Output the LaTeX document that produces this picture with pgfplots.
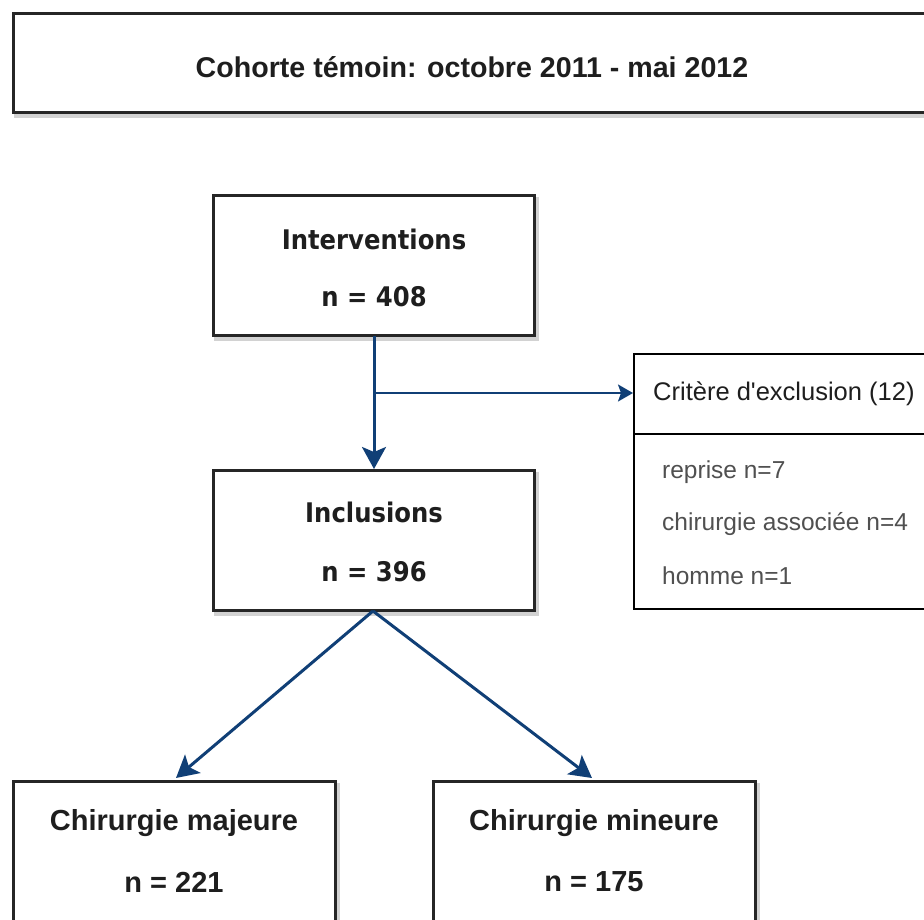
\documentclass[border=0pt]{standalone}
\usepackage{fontspec}
\setmainfont{Liberation Sans}
\newfontfamily\lsplain{Liberation Sans}[Ligatures=TeXOff]
\newfontfamily\dv{DejaVu Sans}
\usepackage{graphicx}
\usepackage{pgfplots}
\pgfplotsset{compat=1.18}
\usetikzlibrary{arrows.meta}
\definecolor{arr}{RGB}{16,63,118}
\definecolor{txt}{RGB}{30,30,30}
\definecolor{itm}{RGB}{80,80,80}
\begin{document}
\begin{tikzpicture}
\begin{axis}[scale only axis, width=924pt, height=919pt,
  xmin=0, xmax=924, ymin=0, ymax=919, y dir=reverse,
  hide axis, clip=true]
% shadows
\addplot[draw=gray!35, line width=4pt, line cap=rect] coordinates {(16,116) (950,116)};
\addplot[draw=gray!35, line width=4pt, line cap=rect] coordinates {(537,199) (537,339) (216,339)};
\addplot[draw=gray!35, line width=4pt, line cap=rect] coordinates {(537,474) (537,614) (216,614)};
\addplot[draw=gray!35, line width=4pt, line cap=rect] coordinates {(338,785) (338,950)};
\addplot[draw=gray!35, line width=4pt, line cap=rect] coordinates {(758,785) (758,950)};
% title box
\addplot[draw=black!85, fill=white, line width=3pt, line cap=rect] coordinates {(13,13.5) (950,13.5) (950,112) (13,112) (13,13.5)};
% Interventions box
\addplot[draw=black!85, fill=white, line width=3pt, line cap=rect] coordinates {(213,195) (534,195) (534,335) (213,335) (213,195)};
% Inclusions box
\addplot[draw=black!85, fill=white, line width=3pt, line cap=rect] coordinates {(213,470) (534,470) (534,610) (213,610) (213,470)};
% bottom boxes
\addplot[draw=black!85, fill=white, line width=3pt, line cap=rect] coordinates {(13,950) (13,781) (335,781) (335,950)};
\addplot[draw=black!85, fill=white, line width=3pt, line cap=rect] coordinates {(433,950) (433,781) (755,781) (755,950)};
% exclusion box
\addplot[draw=black, fill=white, line width=1.4pt, line cap=rect] coordinates {(950,354) (634,354) (634,609) (950,609)};
\addplot[draw=black, line width=1.2pt] coordinates {(634,434) (950,434)};
% arrows
\addplot[draw=arr, line width=3pt, -{Stealth[length=22pt,width=24pt,inset=5pt]}] coordinates {(374,336) (374,469)};
\addplot[draw=arr, line width=2pt, -{Stealth[length=15pt,width=17pt,inset=3pt]}] coordinates {(374,393) (633,393)};
\addplot[draw=arr, line width=3pt, -{Stealth[length=22pt,width=24pt,inset=5pt]}] coordinates {(373,611) (176,778)};
\addplot[draw=arr, line width=3pt, -{Stealth[length=22pt,width=24pt,inset=5pt]}] coordinates {(373,611) (592,778)};
% texts
\node[text=txt, font=\bfseries\fontsize{28.6}{32}\selectfont] at (axis cs:472,67) {Cohorte témoin: octobre 2011 - mai 2012};
\node[text=txt, font=\dv\bfseries\fontsize{27}{32}\selectfont] at (axis cs:374,239) {\scalebox{0.9}[1]{Interventions}};
\node[text=txt, font=\dv\bfseries\fontsize{27}{32}\selectfont] at (axis cs:374,297) {\scalebox{0.9}[1]{n = 408}};
\node[text=txt, font=\dv\bfseries\fontsize{27}{32}\selectfont] at (axis cs:374,512) {\scalebox{0.9}[1]{Inclusions}};
\node[text=txt, font=\dv\bfseries\fontsize{27}{32}\selectfont] at (axis cs:374,572) {\scalebox{0.9}[1]{n = 396}};
\node[text=txt, font=\bfseries\fontsize{29}{32}\selectfont] at (axis cs:174,823) {Chirurgie majeure};
\node[text=txt, font=\bfseries\fontsize{29}{32}\selectfont] at (axis cs:174,882) {n = 221};
\node[text=txt, font=\bfseries\fontsize{29}{32}\selectfont] at (axis cs:594,823) {Chirurgie mineure};
\node[text=txt, font=\bfseries\fontsize{29}{32}\selectfont] at (axis cs:594,882) {n = 175};
\node[text=txt, anchor=west, inner sep=0pt, font=\lsplain\fontsize{25.5}{30}\selectfont] at (axis cs:653,394) {Critère d'exclusion (12)};
\node[text=itm, anchor=west, inner sep=0pt, font=\fontsize{24.5}{30}\selectfont] at (axis cs:662,472) {reprise n=7};
\node[text=itm, anchor=west, inner sep=0pt, font=\fontsize{24.5}{30}\selectfont] at (axis cs:662,524) {chirurgie associée n=4};
\node[text=itm, anchor=west, inner sep=0pt, font=\fontsize{24.5}{30}\selectfont] at (axis cs:662,576) {homme n=1};
\end{axis}
\pgfresetboundingbox
\path (0,0) rectangle (924pt,919pt);
\end{tikzpicture}
\end{document}
